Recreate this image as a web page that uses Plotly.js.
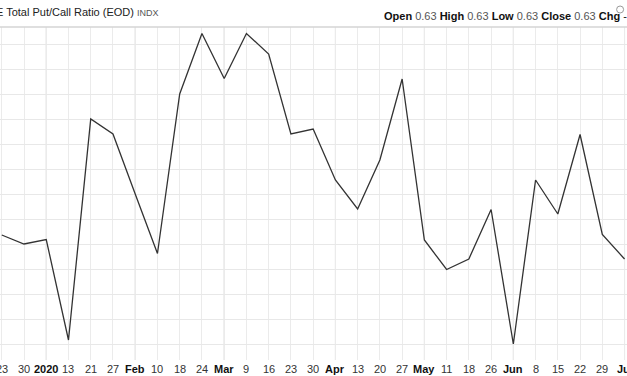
<!DOCTYPE html>
<html>
<head>
<meta charset="utf-8">
<script src="https://cdn.plot.ly/plotly-3.0.1.min.js"></script>
<style>html,body{margin:0;padding:0;background:#fff;}#chart{width:627px;height:376px;}</style>
</head>
<body>
<div id="chart"></div>
<script>
// Weekly dates (Dec 23 2019 .. Jul 6 2020)
const weeks = ["2019-12-23","2019-12-30","2020-01-06","2020-01-13","2020-01-21","2020-01-27","2020-02-03","2020-02-10","2020-02-18","2020-02-24","2020-03-02","2020-03-09","2020-03-16","2020-03-23","2020-03-30","2020-04-06","2020-04-13","2020-04-20","2020-04-27","2020-05-04","2020-05-11","2020-05-18","2020-05-26","2020-06-01","2020-06-08","2020-06-15","2020-06-22","2020-06-29","2020-07-06"];
const tickLabels = ["23","30","2020","13","21","27","Feb","10","18","24","Mar","9","16","23","30","Apr","13","20","27","May","11","18","26","Jun","8","15","22","29","Jul"];
const monthLabels = ["2020","Feb","Mar","Apr","May","Jun","Jul"];
const putCallRatio = [0.718,0.700,0.709,0.508,0.950,0.920,0.800,0.681,1.000,1.121,1.031,1.121,1.080,0.920,0.930,0.828,0.770,0.868,1.030,0.708,0.649,0.670,0.769,0.500,0.828,0.760,0.919,0.719,0.670];

const idx = weeks.map((_, i) => i);
const monthIdx = idx.filter(i => monthLabels.includes(tickLabels[i]));

const shapes = monthIdx.map(i => ({
  type: 'line', xref: 'x', yref: 'paper', x0: i, x1: i, y0: 0, y1: 1,
  line: {color: '#cfcfcf', width: 1}, layer: 'below'
}));
shapes.push({type:'line', xref:'paper', yref:'paper', x0:0, x1:1, y0:1, y1:1, line:{color:'#d4d4d4', width:1.5}});
shapes.push({type:'circle', xref:'paper', yref:'paper', xsizemode:'pixel', ysizemode:'pixel', xanchor:0.989, yanchor:1, x0:-3.5, x1:3.5, y0:14, y1:21, line:{color:'#999', width:1}, fillcolor:'#fff'});

const tickAnnotations = idx.map(i => {
  const isMonth = monthLabels.includes(tickLabels[i]);
  return {
    xref: 'x', yref: 'paper', x: i, y: 0, yshift: -9, xanchor: 'center', yanchor: 'middle', showarrow: false,
    text: isMonth ? '<b>' + tickLabels[i] + '</b>' : tickLabels[i],
    font: {size: 11, color: isMonth ? '#111' : '#333'}
  };
});

const trace = {
  x: idx, y: putCallRatio, type: 'scatter', mode: 'lines',
  line: {color: '#333333', width: 1.3}, hoverinfo: 'skip'
};

const layout = {
  width: 627, height: 376,
  margin: {l: 0, r: 0, t: 27, b: 16, pad: 0},
  paper_bgcolor: '#ffffff', plot_bgcolor: '#ffffff',
  showlegend: false,
  font: {family: 'Liberation Sans, Arial, sans-serif', size: 11, color: '#333'},
  xaxis: {
    range: [-0.079, 28.11], tickmode: 'array', tickvals: idx, showticklabels: false,
    showgrid: true, gridcolor: '#ebebeb', gridwidth: 1, zeroline: false,
    showline: false, ticks: ''
  },
  yaxis: {
    range: [0.468, 1.134], tick0: 0.5, dtick: 0.05, showticklabels: false,
    showgrid: true, gridcolor: '#e8e8e8', gridwidth: 1, zeroline: false, showline: false, ticks: ''
  },
  shapes: shapes,
  annotations: [
    {xref: 'paper', yref: 'paper', x: 0, y: 1, xshift: -6, yshift: 15, xanchor: 'left', yanchor: 'middle', showarrow: false,
     text: 'E Total Put/Call Ratio (EOD) <span style="font-size:9px;color:#555">INDX</span>', font: {size: 11, color: '#222'}},
    {xref: 'paper', yref: 'paper', x: 0, y: 1, xshift: 382, yshift: 11, xanchor: 'left', yanchor: 'middle', showarrow: false,
     text: '<b>Open</b> <span style="color:#555">0.63</span> <b>High</b> <span style="color:#555">0.63</span> <b>Low</b> <span style="color:#555">0.63</span> <b>Close</b> <span style="color:#555">0.63</span> <b>Chg</b> -',
     font: {size: 11, color: '#111'}}
  ].concat(tickAnnotations)
};

Plotly.newPlot('chart', [trace], layout, {displayModeBar: false, staticPlot: true});
</script>
</body>
</html>
